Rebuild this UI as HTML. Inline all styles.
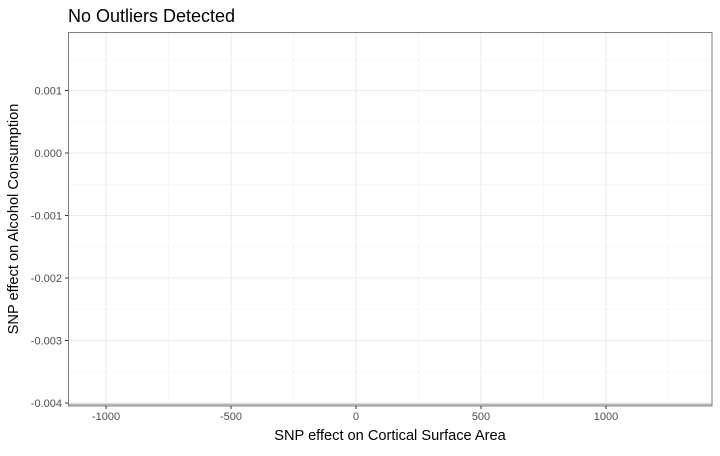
<!DOCTYPE html>
<html><head><meta charset="utf-8"><style>
body{margin:0;background:#fff;font-family:"Liberation Sans",sans-serif}
</style></head><body>
<svg width="720" height="451" xmlns="http://www.w3.org/2000/svg">
<rect width="720" height="451" fill="#fff"/>
<g id="grid"></g>
<line x1="68" x2="712" y1="404.5" y2="404.5" stroke="#b0b0b0" stroke-width="1.6"/>
<rect x="68.5" y="32.5" width="643.5" height="373.5" fill="none" stroke="#7f7f7f" stroke-width="1"/>
<g id="axes"></g>
<text x="68" y="22" font-size="18" fill="#000">No Outliers Detected</text>
<text x="390" y="440" font-size="14.6" text-anchor="middle" fill="#000">SNP effect on Cortical Surface Area</text>
<text transform="translate(18,219) rotate(-90)" font-size="14.6" text-anchor="middle" fill="#000">SNP effect on Alcohol Consumption</text>
</svg>
<script>
const xTicks=[-1000,-500,0,500,1000];
const xTickLabels=["-1000","-500","0","500","1000"];
const yTicks=[0.001,0,-0.001,-0.002,-0.003,-0.004];
const yTickLabels=["0.001","0.000","-0.001","-0.002","-0.003","-0.004"];
const xMinor=[-750,-250,250,750,1250];
const yMinor=[0.0015,0.0005,-0.0005,-0.0015,-0.0025,-0.0035];
const sx=v=>356+v*0.25;
const sy=v=>153-v*62500;
const NS="http://www.w3.org/2000/svg";
const g=document.getElementById('grid'),a=document.getElementById('axes');
function ln(p,x1,y1,x2,y2,c,w){const l=document.createElementNS(NS,'line');l.setAttribute('x1',x1);l.setAttribute('y1',y1);l.setAttribute('x2',x2);l.setAttribute('y2',y2);l.setAttribute('stroke',c);l.setAttribute('stroke-width',w);p.appendChild(l);return l;}
function tx(p,x,y,s,anc){const t=document.createElementNS(NS,'text');t.setAttribute('x',x);t.setAttribute('y',y);t.setAttribute('font-size','11');t.setAttribute('fill','#4d4d4d');t.setAttribute('text-anchor',anc);t.textContent=s;p.appendChild(t);return t;}
xMinor.forEach(v=>{const l=ln(g,sx(v),32,sx(v),406,'#f2f2f2',0.6);

});
yMinor.forEach(v=>{const l=ln(g,68,sy(v),712,sy(v),'#f2f2f2',0.6);

});
xTicks.forEach((v,i)=>{const l=ln(g,sx(v),32,sx(v),406,'#ebebeb',1.1);


ln(a,sx(v),406,sx(v),409,'#333',1);
const t=tx(a,sx(v),420,xTickLabels[i],'middle');

});
yTicks.forEach((v,i)=>{const l=ln(g,68,sy(v),712,sy(v),'#ebebeb',1.1);


ln(a,65,sy(v),68,sy(v),'#333',1);
const t=tx(a,62,sy(v)+4,yTickLabels[i],'end');

});
</script>
</body></html>
